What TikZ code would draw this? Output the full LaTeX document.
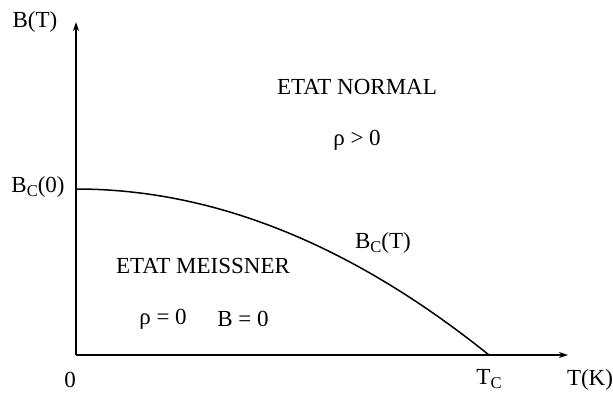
\documentclass[tikz,border=0pt]{standalone}
\usepackage{fontspec}
\setmainfont{Liberation Serif}
\usetikzlibrary{arrows.meta}
\newcommand\mysub[1]{\raisebox{-0.35ex}{\fontsize{16.5}{16.5}\selectfont #1}}
\begin{document}
\begin{tikzpicture}[x=1pt,y=-1pt,
  axis/.style={line width=1.5pt,-{Stealth[length=9pt,width=6pt]}},
  curve/.style={line width=1.5pt},
  lab/.style={inner sep=0pt,font=\fontsize{23}{27}\selectfont}]
\useasboundingbox (0,0) rectangle (613,392);
\coordinate (O) at (76,355);
\coordinate (ytop) at (76,22);
\coordinate (xend) at (568,355);
\coordinate (B0) at (76,189);
\coordinate (Tc) at (489,355);
\draw[axis] (O) -- (ytop);
\draw[axis] (O) -- (xend);
\draw[curve] plot[domain=0:1,samples=60,smooth] ({76+413*\x},{189+166*\x*\x});
\node[lab] (lBT) at (35,22) {B(T)};
\node[lab] (lB0) at (38,187) {B\mysub{C}(0)};
\node[lab] (l0) at (70,380) {0};
\node[lab] (lTc) at (489,379) {T\mysub{C}};
\node[lab] (lTK) at (590,380) {T(K)};
\node[lab] (lBcT) at (383,243) {B\mysub{C}(T)};
\node[lab] (lEN) at (357,87) {ETAT NORMAL};
\node[lab] (lrho) at (357,140) {ρ > 0};
\node[lab] (lEM) at (203,266) {ETAT MEISSNER};
\node[lab] (lr0) at (163,319) {ρ = 0};
\node[lab] (lb0) at (243,319) {B = 0};
\end{tikzpicture}
\end{document}
